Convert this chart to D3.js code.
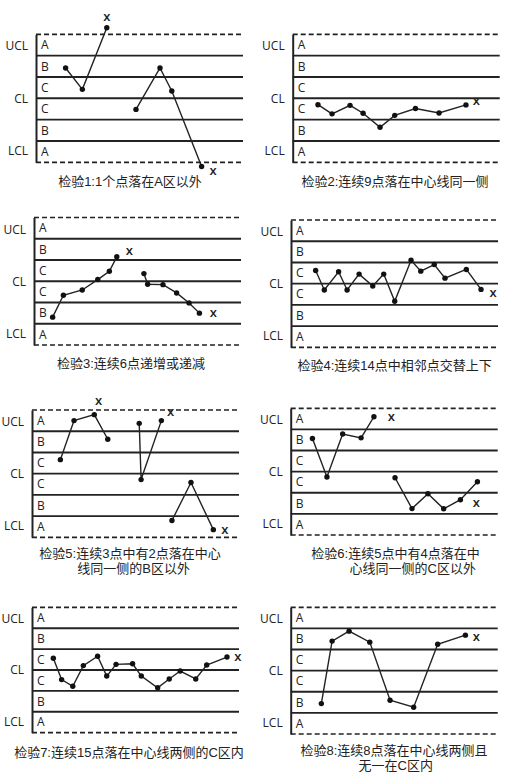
<!DOCTYPE html>
<html><head><meta charset="utf-8">
<script src="https://cdn.jsdelivr.net/npm/d3@7"></script>
<style>
html,body{margin:0;padding:0;background:#fff;}
svg{display:block;}
</style></head>
<body>
<svg id="chart" width="517" height="784"></svg>
<script>
// ---- data (x: time position 0-100, y: value in sigma units, CL = 0) ----
const zoneLetters = ["A","B","C","C","B","A"];
const zoneCenters = [2.5,1.5,0.5,-0.5,-1.5,-2.5];
const limitLabels = ["UCL","CL","LCL"];
const limitLabelValues = [2.45,0,-2.45];
const zoneLines = [2,1,0,-1,-2];
const controlLimits = [3,-3];

const captions = [
  ["检验1:1个点落在A区以外"],
  ["检验2:连续9点落在中心线同一侧"],
  ["检验3:连续6点递增或递减"],
  ["检验4:连续14点中相邻点交替上下"],
  ["检验5:连续3点中有2点落在中心","线同一侧的B区以外"],
  ["检验6:连续5点中有4点落在中","心线同一侧的C区以外"],
  ["检验7:连续15点落在中心线两侧的C区内"],
  ["检验8:连续8点落在中心线两侧且","无一在C区内"]
];

const p1X = [[14.3,22.4,34.2],[48.3,59.9,65.6,80.0]];
const p1Y = [[1.42,0.42,3.31],[-0.52,1.42,0.34,-3.2]];
const p1Flags = [[34.2,3.8],[85.5,-3.41]];

const p2X = [[12.2,19.0,27.7,34.0,42.2,49.3,59.3,70.7,83.7]];
const p2Y = [[-0.30,-0.73,-0.33,-0.70,-1.36,-0.80,-0.48,-0.69,-0.31]];
const p2Flags = [[88.7,-0.12]];

const p3X = [[9.0,14.2,23.3,30.8,36.4,40.0],[53.1,54.9,62.3,68.9,74.9,79.9]];
const p3Y = [[-1.69,-0.66,-0.41,0.08,0.47,1.15],[0.36,-0.14,-0.16,-0.55,-1.02,-1.50]];
const p3Flags = [[46.0,1.40],[86.6,-1.48]];

const p4X = [[11.9,16.1,23.0,27.1,32.9,39.5,44.8,50.1,58.0,62.7,69.2,74.4,84.7,91.8]];
const p4Y = [[0.62,-0.30,0.56,-0.30,0.45,-0.11,0.45,-0.83,1.10,0.59,0.90,0.26,0.67,-0.27]];
const p4Flags = [[97.6,-0.43]];

const p5X = [[13.7,20.3,30.1,36.6],[51.8,52.7,62.5],[67.6,76.8,87.6]];
const p5Y = [[0.66,2.50,2.78,1.62],[2.37,-0.28,2.50],[-2.21,-0.42,-2.64]];
const p5Flags = [[32.2,3.44],[67.0,2.89],[93.2,-2.68]];

const p6X = [[10.5,17.5,25.1,34.0,40.2],[50.4,58.6,66.3,73.9,82.0,90.2]];
const p6Y = [[1.57,-0.25,1.78,1.60,2.60],[-0.29,-1.75,-1.05,-1.76,-1.33,-0.48]];
const p6Flags = [[48.6,2.57],[89.7,-1.48]];

const p7X = [[10.3,14.3,19.7,24.8,31.7,36.1,40.6,48.6,52.8,60.7,66.3,71.6,79.1,84.4,94.2]];
const p7Y = [[0.56,-0.46,-0.78,0.21,0.66,-0.29,0.27,0.30,-0.29,-0.85,-0.43,-0.05,-0.43,0.24,0.62]];
const p7Flags = [[99.4,0.62]];

const p8X = [[14.8,20.0,28.2,38.2,48.0,59.4,71.0,84.4]];
const p8Y = [[-1.56,1.40,1.87,1.35,-1.40,-1.73,1.25,1.68]];
const p8Flags = [[89.7,1.6]];

const seriesX = [p1X,p2X,p3X,p4X,p5X,p6X,p7X,p8X];
const seriesY = [p1Y,p2Y,p3Y,p4Y,p5Y,p6Y,p7Y,p8Y];
const flags = [p1Flags,p2Flags,p3Flags,p4Flags,p5Flags,p6Flags,p7Flags,p8Flags];

// ---- layout ----
const panelWidth = 207;
const layout = [
  {left:36,  top:34.3,  bottom:162.3, cap:[[130,181]]},
  {left:292.7,top:34.3, bottom:162.3, cap:[[395,181]]},
  {left:34,  top:217.5, bottom:345,   cap:[[131,363]]},
  {left:291, top:220,   bottom:347.3, cap:[[394.7,365]]},
  {left:32,  top:410,   bottom:537.3, cap:[[130,553.5],[133.7,568.5]]},
  {left:290.7,top:408.3,bottom:535,   cap:[[395.5,553.5],[412.7,568.5]]},
  {left:32,  top:607.3, bottom:732.7, cap:[[129,752.5]]},
  {left:290.7,top:607.3,bottom:734,   cap:[[394,750],[395.8,765]]}
];

const ink = "#222";
const svg = d3.select("#chart");

layout.forEach((L, i) => {
  const x = d3.scaleLinear().domain([0,100]).range([L.left, L.left + panelWidth]);
  const y = d3.scaleLinear().domain([-3,3]).range([L.bottom, L.top]);
  const g = svg.append("g");

  // zone lines
  g.selectAll("line.zone").data(zoneLines).join("line")
    .attr("x1", x(0)).attr("x2", x(100))
    .attr("y1", d => y(d)).attr("y2", d => y(d))
    .attr("stroke", ink).attr("stroke-width", 1.9);
  // control limits (dashed)
  g.selectAll("line.limit").data(controlLimits).join("line")
    .attr("x1", x(0)).attr("x2", x(100))
    .attr("y1", d => y(d)).attr("y2", d => y(d))
    .attr("stroke", ink).attr("stroke-width", 1.7)
    .attr("stroke-dasharray", "5,3");

  // left axis with UCL / CL / LCL
  const axis = d3.axisLeft(y)
    .tickValues(limitLabelValues)
    .tickFormat((d, k) => limitLabels[k])
    .tickSize(0).tickSizeOuter(0).tickPadding(8);
  const ag = g.append("g").attr("transform", `translate(${x(0)},0)`).call(axis);
  ag.select(".domain").attr("stroke", ink).attr("stroke-width", 2);
  ag.selectAll("text").attr("fill", ink)
    .style("font-family", "'Open Sans', 'Noto Sans', sans-serif")
    .style("font-size", "12px");

  // zone letters
  g.selectAll("text.zl").data(zoneLetters).join("text")
    .attr("x", x(0) + 5)
    .attr("y", (d, k) => y(zoneCenters[k]))
    .attr("dy", "0.35em")
    .attr("fill", ink)
    .style("font-family", "'Open Sans', 'Noto Sans', sans-serif")
    .style("font-size", "12px")
    .text(d => d);

  // data segments
  const line = d3.line().x(d => x(d[0])).y(d => y(d[1]));
  seriesX[i].forEach((xs, s) => {
    const pts = xs.map((v, k) => [v, seriesY[i][s][k]]);
    g.append("path").attr("d", line(pts))
      .attr("fill", "none").attr("stroke", ink).attr("stroke-width", 1.4);
    g.selectAll(null).data(pts).join("circle")
      .attr("cx", d => x(d[0])).attr("cy", d => y(d[1]))
      .attr("r", 2.7).attr("fill", "#111");
  });

  // out-of-control flags
  g.selectAll("text.flag").data(flags[i]).join("text")
    .attr("x", d => x(d[0])).attr("y", d => y(d[1]))
    .attr("dy", "0.3em").attr("text-anchor", "middle")
    .attr("fill", ink)
    .style("font-family", "'Open Sans', 'Noto Sans', sans-serif")
    .style("font-size", "13px").style("font-weight", "600")
    .text("x");

  // caption
  g.selectAll("text.cap").data(captions[i]).join("text")
    .attr("x", (d, k) => L.cap[k][0]).attr("y", (d, k) => L.cap[k][1])
    .attr("dy", "0.36em").attr("text-anchor", "middle")
    .attr("fill", ink)
    .style("font-family", "'Liberation Sans', 'Noto Sans CJK SC', sans-serif")
    .style("font-size", "13px")
    .text(d => d);
});
</script>
</body></html>
